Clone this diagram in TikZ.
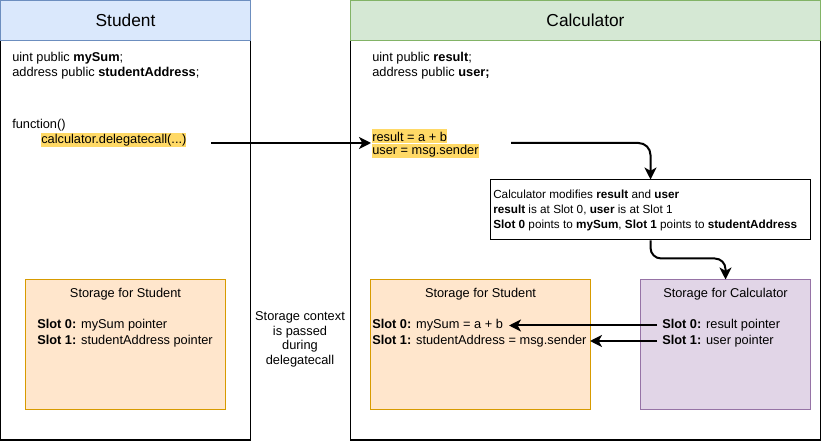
\documentclass[tikz,border=0pt]{standalone}
\usepackage{fontspec}
\setmainfont{Liberation Sans}
\usetikzlibrary{arrows.meta}
\definecolor{hdrblue}{HTML}{DAE8FC}
\definecolor{hdrbluel}{HTML}{6C8EBF}
\definecolor{hdrgreen}{HTML}{D5E8D4}
\definecolor{hdrgreenl}{HTML}{82B366}
\definecolor{storor}{HTML}{FFE6CC}
\definecolor{stororl}{HTML}{D79B00}
\definecolor{storpu}{HTML}{E1D5E7}
\definecolor{storpul}{HTML}{9673A6}
\definecolor{hilite}{HTML}{FFD966}
\begin{document}
\begin{tikzpicture}[x=0.75pt,y=-0.75pt,
  every node/.style={font=\fontsize{9.6}{11.25}\selectfont, inner sep=0pt},
  lanebody/.style={draw=black, line width=0.75pt, fill=white, minimum width=#1, minimum height=300pt},
  lanehead/.style={line width=0.75pt, minimum width=#1, minimum height=30pt, font=\fontsize{13}{15}\selectfont},
  storbox/.style={line width=0.75pt, minimum width=#1, minimum height=97.5pt},
  txt/.style={anchor=west},
  hl/.style={anchor=west, fill=hilite, minimum height=10.5pt},
  infobox/.style={draw=black, line width=0.75pt, fill=white, minimum height=45pt, minimum width=240pt},
  conn/.style={line width=1.5pt, -{Stealth[length=9pt, width=9pt, inset=2.5pt]}},
]
\useasboundingbox (0,0) rectangle (821,441);
% Student lane
\node[lanebody=187.5pt] (stubody) at (125.5,240) {};
\node[lanehead=187.5pt, draw=hdrbluel, fill=hdrblue] (stuhead) at (125.5,20.5) {Student};
% Calculator lane
\node[lanebody=352.5pt] (calbody) at (585.5,240) {};
\node[lanehead=352.5pt, draw=hdrgreenl, fill=hdrgreen] (calhead) at (585.5,20.5) {Calculator};

% Student texts
\node[txt] (s1) at (12,58) {uint public \textbf{mySum};};
\node[txt] (s2) at (12,73) {address public \textbf{studentAddress};};
\node[txt] (s3) at (12,125) {function()};
\node[hl] (dc) at (41,140.5) {calculator.delegatecall(...)};

% Calculator texts
\node[txt] (c1) at (372,58) {uint public \textbf{result};};
\node[txt] (c2) at (372,73) {address public \textbf{user;}};
\node[hl] (res) at (372,136.5) {result = a + b};
\node[hl] (usr) at (372,151) {user = msg.sender};

% info box
\node[infobox] (info) at (650.5,210) {};
\node[anchor=west, align=left, font=\fontsize{8.8}{11.25}\selectfont] (infot) at (493,210.5) {Calculator modifies \textbf{result} and \textbf{user}\\
\textbf{result} is at Slot 0, \textbf{user} is at Slot 1\\
\textbf{Slot 0} points to \textbf{mySum}, \textbf{Slot 1} points to \textbf{studentAddress}};

% storage boxes
\node[storbox=150pt, draw=stororl, fill=storor] (stL) at (125.5,345) {};
\node (stLt) at (125.5,294.5) {Storage for Student};
\node[txt] (stL0) at (37,325) {\textbf{Slot 0:} mySum pointer};
\node[txt] (stL1) at (37,341) {\textbf{Slot 1:} studentAddress pointer};

\node[storbox=165pt, draw=stororl, fill=storor] (stR) at (480.5,345) {};
\node (stRt) at (480.5,294.5) {Storage for Student};
\node[txt] (stR0) at (372,325) {\textbf{Slot 0:} mySum = a + b};
\node[txt] (stR1) at (372,341) {\textbf{Slot 1:} studentAddress = msg.sender};

\node[storbox=127.5pt, draw=storpul, fill=storpu] (stC) at (725.5,345) {};
\node (stCt) at (725.5,294.5) {Storage for Calculator};
\node[txt] (stC0) at (662,325) {\textbf{Slot 0:} result pointer};
\node[txt] (stC1) at (662,341) {\textbf{Slot 1:} user pointer};

% middle note
\node[align=center, font=\fontsize{9.6}{10.9}\selectfont] (note) at (300,339.5) {Storage context\\is passed\\during\\delegatecall};

% connectors
\coordinate (a1s) at (211,143);
\coordinate (a1e) at (371,143);
\draw[conn] (a1s) -- (a1e);

\coordinate (a2s) at (511,143);
\draw[conn, rounded corners=9pt] (a2s) -- (info.north |- a2s) -- (info.north);

\draw[conn, rounded corners=8pt] (info.south) -- ++(0,18) -| (stC.north);

\coordinate (a4s) at (657,325.5);
\coordinate (a4e) at (509,325.5);
\draw[conn] (a4s) -- (a4e);
\coordinate (a5s) at (657,341);
\coordinate (a5e) at (590,341);
\draw[conn] (a5s) -- (a5e);
\end{tikzpicture}
\end{document}
